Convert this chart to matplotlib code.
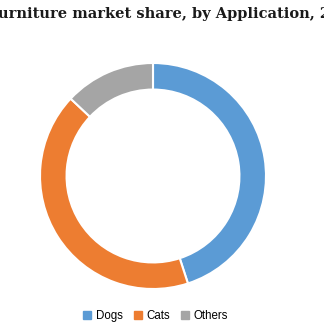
import matplotlib
matplotlib.use("Agg")
import matplotlib.pyplot as plt
from matplotlib.lines import Line2D

categories = ["Dogs", "Cats", "Others"]
shares = [45, 42, 13]
colors = ["#5B9BD5", "#ED7D31", "#A5A5A5"]
title = "Pet Furniture market share, by Application, 2019 (%)"

W, H, DPI = 324, 328, 100
fig = plt.figure(figsize=(W / DPI, H / DPI), dpi=DPI)
fig.patch.set_facecolor("white")

# donut axes in pixel placement
cx, cy, r = 153, 176, 113
ax = fig.add_axes([(cx - r) / W, (H - cy - r) / H, 2 * r / W, 2 * r / H])
ax.pie(shares, colors=colors, startangle=90, counterclock=False, radius=1.0,
       wedgeprops=dict(width=0.235, edgecolor="white", linewidth=1.5))
ax.set_xlim(-1, 1)
ax.set_ylim(-1, 1)
ax.set_aspect("equal")
ax.axis("off")

# title, wider than the canvas, shifted so its start runs off the left edge
tfont = dict(family="DejaVu Serif", weight="bold", size=10.5, color="#1a1a1a")
renderer = fig.canvas.get_renderer()
probe = fig.text(0, 0, "Pet F", **tfont)
pw = probe.get_window_extent(renderer).width
probe.remove()
fig.text((-pw - 2) / W, 1 - 18 / H, title, ha="left", va="baseline", **tfont)

handles = [Line2D([0], [0], marker="s", linestyle="none", markersize=5.5,
                  markerfacecolor=c, markeredgecolor=c) for c in colors]
fig.legend(handles, categories, loc="center", ncol=3,
           bbox_to_anchor=(156 / W, 1 - 316 / H), frameon=False,
           prop=dict(family="Liberation Sans", size=8.3),
           handlelength=0.6, handletextpad=0.45, columnspacing=1.0)

fig.savefig("out.png", dpi=DPI)
